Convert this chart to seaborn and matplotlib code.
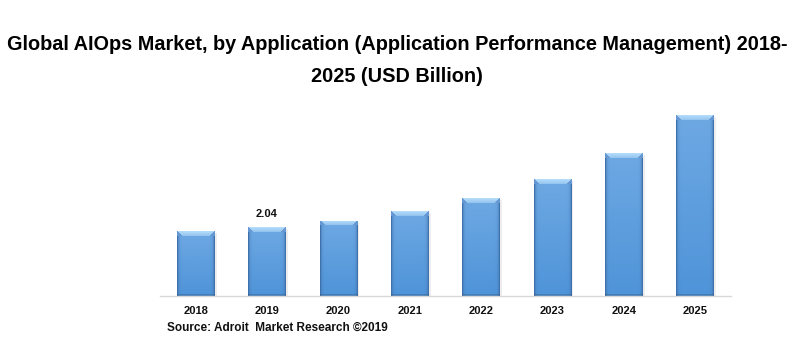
import numpy as np
import pandas as pd
import matplotlib
matplotlib.use("Agg")
import matplotlib.pyplot as plt
import seaborn as sns

# Market size, application performance management segment (USD billion)
years = ["2018", "2019", "2020", "2021", "2022", "2023", "2024", "2025"]
values = [1.92, 2.04, 2.22, 2.51, 2.90, 3.46, 4.23, 5.35]
labelled_year = "2019"

title_lines = [
    "Global AIOps Market, by Application (Application Performance Management) 2018-",
    "2025 (USD Billion)",
]
source_text = "Source: Adroit  Market Research \u00a92019"

sns.set_theme(style="white")
plt.rcParams["font.family"] = ["Liberation Sans", "DejaVu Sans"]

DPI = 100
W, H = 801, 346
fig = plt.figure(figsize=(W / DPI, H / DPI), dpi=DPI)
ax = fig.add_axes([160 / W, 1 - 296 / H, 571 / W, 196 / H])

df = pd.DataFrame({"year": years, "value": values})
sns.barplot(data=df, x="year", y="value", ax=ax, width=0.53,
            color="#5b9fe0", edgecolor="none", saturation=1)

ax.set_xlim(-0.5, len(years) - 0.5)
ax.set_ylim(0, 5.80)
ax.set_xlabel("")
ax.set_ylabel("")
ax.set_yticks([])
for side in ("left", "right", "top"):
    ax.spines[side].set_visible(False)
ax.spines["bottom"].set_color("#d9d9d9")
ax.spines["bottom"].set_linewidth(1.0)
ax.tick_params(axis="x", length=0, pad=7, labelsize=8)
for t in ax.get_xticklabels():
    t.set_fontweight("bold")
    t.set_color("#111111")


def bar_shading(h, w):
    """RGB image of a bevelled, shaded bar of h x w pixels."""
    xs = np.linspace(-1, 1, w)
    prof = np.clip(1 - np.abs(xs) ** 14, 0, 1)[None, :, None]
    ys = np.linspace(0, 1, h)[:, None, None]
    edge = np.array([0.25, 0.45, 0.68])
    top_c = np.array([0.43, 0.66, 0.89])
    bot_c = np.array([0.31, 0.58, 0.85])
    centre = top_c * (1 - ys) + bot_c * ys
    img = edge * (1 - prof) + centre * prof
    # slightly darker foot
    img[-2:] = img[-2:] * 0.85
    bevel = 5
    hi = np.array([0.70, 0.86, 0.98])
    for r in range(min(bevel, h)):
        lo, hi_c = r + 1, w - r - 1
        if hi_c > lo:
            mix = r / bevel
            img[r, lo:hi_c] = hi * (1 - 0.5 * mix) + centre[r, 0] * 0.5 * mix
        img[r, :lo] = edge + 0.15
        img[r, hi_c:] = edge + 0.15
    return np.clip(img, 0, 1)


fig.canvas.draw()
px_per_unit = ax.transData.transform((0, 1))[1] - ax.transData.transform((0, 0))[1]
px_per_cat = ax.transData.transform((1, 0))[0] - ax.transData.transform((0, 0))[0]
for patch in list(ax.patches):
    x0, y0 = patch.get_x(), patch.get_y()
    bw, bh = patch.get_width(), patch.get_height()
    hp = max(int(round(bh * px_per_unit)), 2)
    wp = max(int(round(bw * px_per_cat)), 2)
    # faint drop shadow to the right
    ax.bar(x0 + bw / 2 + 2.0 / px_per_cat, bh - 2 / px_per_unit, width=bw,
           bottom=0, color="#000000", alpha=0.07, zorder=patch.get_zorder() - 0.5,
           linewidth=0)
    im = ax.imshow(bar_shading(hp, wp), extent=(x0, x0 + bw, y0, y0 + bh),
                   aspect="auto", interpolation="bilinear", origin="upper",
                   zorder=patch.get_zorder() + 0.1)
    im.set_clip_path(patch)

ax.set_xlim(-0.5, len(years) - 0.5)
ax.set_ylim(0, 5.80)

i = years.index(labelled_year)
ax.annotate(f"{values[i]:.2f}", xy=(i, values[i]), xytext=(0, 13),
            textcoords="offset pixels", ha="center", va="center",
            fontsize=8, fontweight="bold", color="#111111")

fig.text(397 / W, 1 - 44 / H, title_lines[0], ha="center", va="center",
         fontsize=14.3, fontweight="bold", color="#000000")
fig.text(397 / W, 1 - 77 / H, title_lines[1], ha="center", va="center",
         fontsize=14.3, fontweight="bold", color="#000000")
fig.text(167 / W, 1 - 328 / H, source_text, ha="left", va="center",
         fontsize=8.5, fontweight="bold", color="#111111")

fig.savefig("out.png", dpi=DPI, facecolor="white")
